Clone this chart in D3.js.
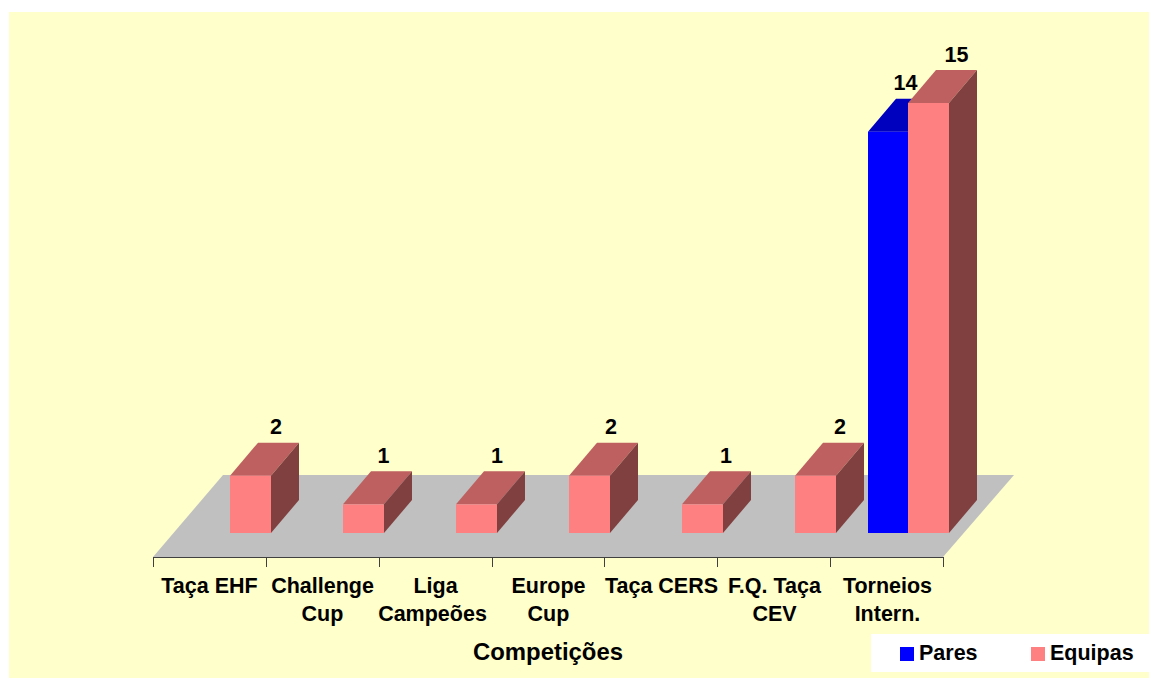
<!DOCTYPE html>
<html><head><meta charset="utf-8">
<script src="https://cdn.jsdelivr.net/npm/d3@7"></script>
<style>html,body{margin:0;padding:0;background:#fff}svg{display:block}text{font-family:"Liberation Sans",Arial,sans-serif;font-weight:bold;fill:#000}</style>
</head><body><svg id="c" width="1149" height="678"></svg>
<script>
const categories = ["Taça EHF","Challenge Cup","Liga Campeões","Europe Cup","Taça CERS","F.Q. Taça CEV","Torneios Intern."];
const categoryLines = [["Taça EHF"],["Challenge","Cup"],["Liga","Campeões"],["Europe","Cup"],["Taça CERS"],["F.Q. Taça","CEV"],["Torneios","Intern."]];
const pares = [null,null,null,null,null,null,14];
const equipas = [2,1,1,2,1,2,15];
const seriesNames = ["Pares","Equipas"];
const xTitle = "Competições";

const frontColors = ["#0000FF","#FF8080"], topColors = ["#0000BF","#BE6060"], sideColors = ["#000080","#804040"];
const svg = d3.select("#c");
const W=1149,H=678;
svg.append("rect").attr("x",9).attr("y",12).attr("width",W-9).attr("height",H-12).attr("fill","#FFFFCC");

const floorY=557, left=153, right=944, floorDx=70, floorDy=82;
const x=d3.scaleBand().domain(categories).range([left,right]).padding(0);
const tickX=d3.scaleLinear().domain([0,categories.length]).range([left,right-1]);
const y=d3.scaleLinear().domain([0,15]).range([533,103]);
const depthX=28, depthY=33, barW=41;
const line=d3.line();

// floor
svg.append("path").attr("fill","#C0C0C0")
 .attr("d",line([[left,floorY],[left+floorDx,floorY-floorDy],[right+floorDx,floorY-floorDy],[right-1,floorY]])+"Z");

// axis
const axisLine=svg.append("g").attr("stroke","#404040").attr("stroke-width",1).attr("shape-rendering","crispEdges");
axisLine.append("line").attr("x1",left).attr("x2",right).attr("y1",floorY+.5).attr("y2",floorY+.5);
d3.range(categories.length+1).forEach(i=>{
  const tx=Math.round(tickX(i))+.5;
  axisLine.append("line").attr("x1",tx).attr("x2",tx).attr("y1",floorY).attr("y2",floorY+10);
});
categories.forEach((c,i)=>{
  const t=svg.append("text").attr("text-anchor","middle").attr("font-size",21.5);
  categoryLines[i].forEach((l,j)=>t.append("tspan")
    .attr("x",x(c)+x.bandwidth()/2-(l==="Campeões"?3:0)).attr("y",593+j*28).text(l));
});
svg.append("text").attr("x",548).attr("y",660).attr("text-anchor","middle").attr("font-size",23.9).text(xTitle);

function bar(v,c,s,offset){
  const x0=x(c)+offset,x1=x0+barW,y0=y(0),yt=y(v);
  const g=svg.append("g");
  g.append("path").attr("fill",topColors[s]).attr("d",line([[x0,yt],[x0+depthX,yt-depthY],[x1+depthX,yt-depthY],[x1,yt]])+"Z");
  g.append("path").attr("fill",sideColors[s]).attr("d",line([[x1,yt],[x1+depthX,yt-depthY],[x1+depthX,y0-depthY],[x1,y0]])+"Z");
  g.append("rect").attr("x",x0).attr("y",yt).attr("width",barW).attr("height",y0-yt).attr("fill",frontColors[s]);
}
const labelNudge=[[0,0,0,0,0,0,-11],[-2.5,-8,-7.5,-6.5,-4.5,-3.5,0]];
const seriesOffset=[37,77];
const labels=[];
[pares,equipas].forEach((ser,s)=>{
  ser.forEach((v,i)=>{
    if(v==null) return;
    bar(v,categories[i],s,seriesOffset[s]);
    labels.push({v,px:x(categories[i])+seriesOffset[s]+barW/2+depthX+labelNudge[s][i],py:y(v)-depthY-8.5});
  });
});
labels.forEach(l=>svg.append("text").attr("x",l.px).attr("y",l.py).attr("text-anchor","middle").attr("font-size",21.5).text(l.v));

// legend
svg.append("rect").attr("x",871).attr("y",634).attr("width",W-871).attr("height",38).attr("fill","#fff");
const legendX=d3.scaleOrdinal().domain(seriesNames).range([900,1031]);
seriesNames.forEach((n,i)=>{
  svg.append("rect").attr("x",legendX(n)).attr("y",647).attr("width",14).attr("height",14).attr("fill",frontColors[i]);
  svg.append("text").attr("x",legendX(n)+19).attr("y",660).attr("font-size",21.5).text(n);
});
</script></body></html>
